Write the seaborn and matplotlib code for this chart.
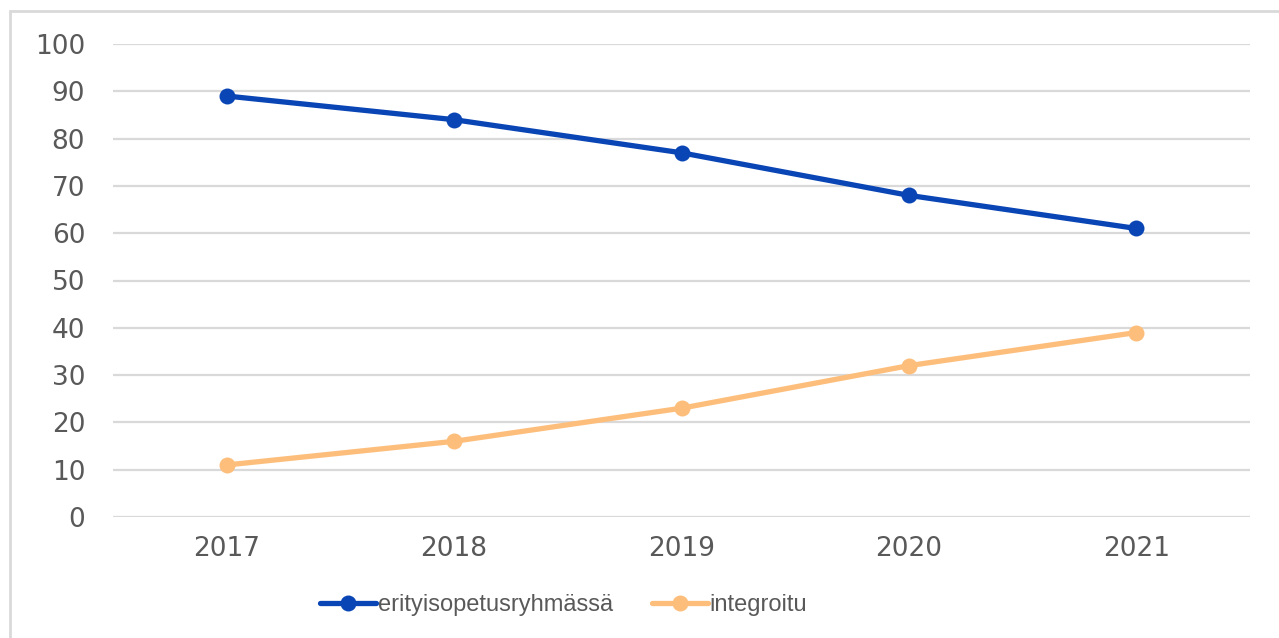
import matplotlib
matplotlib.use("Agg")
import matplotlib.pyplot as plt
import seaborn as sns
import pandas as pd
from matplotlib.patches import Rectangle

years = ["2017", "2018", "2019", "2020", "2021"]
erityis = [89, 84, 77, 68, 61]
integroitu = [11, 16, 23, 32, 39]
series_names = ["erityisopetusryhmässä", "integroitu"]
colors = ["#0A45B5", "#FDBE7C"]

df = pd.DataFrame({
    "year": years * 2,
    "x": list(range(len(years))) * 2,
    "value": erityis + integroitu,
    "series": [series_names[0]] * len(years) + [series_names[1]] * len(years),
})

sns.set_theme(style="white")
plt.rcParams["font.family"] = ["Liberation Sans", "DejaVu Sans"]

fig = plt.figure(figsize=(12.79, 6.38), dpi=100)
ax = fig.add_axes([113 / 1279, 1 - 517 / 638, (1250 - 113) / 1279, (517 - 44) / 638])

sns.lineplot(data=df, x="x", y="value", hue="series", palette=colors,
             marker="o", markersize=11.5, linewidth=3.8, markeredgewidth=0,
             ax=ax, legend=True, zorder=3)

ax.set_xlim(-0.5, len(years) - 0.5)
ax.set_ylim(0, 100)
ax.set_yticks(range(0, 101, 10))
ax.set_xticks(range(len(years)))
ax.set_xticklabels(years)
ax.set_xlabel("")
ax.set_ylabel("")
ax.grid(axis="y", color="#D9D9D9", linewidth=1.6, zorder=0)
ax.grid(axis="x", visible=False)
for s in ax.spines.values():
    s.set_visible(False)
ax.tick_params(axis="both", length=0, labelcolor="#595959")
for lbl in ax.get_xticklabels() + ax.get_yticklabels():
    lbl.set_fontfamily(["DejaVu Sans"])
    lbl.set_fontsize(19)
ax.tick_params(axis="y", pad=20)
ax.tick_params(axis="x", pad=14)

handles, labels = ax.get_legend_handles_labels()
leg = ax.legend(handles, labels, loc="center", ncol=2, frameon=False,
                fontsize=17, handlelength=2.4, handletextpad=0.05, columnspacing=1.65,
                labelcolor="#595959")
leg.set_bbox_to_anchor((563.5 / 1279, 1 - 605 / 638), transform=fig.transFigure)

fig.patches.append(Rectangle((10 / 1279, -0.1), 1.2, 1 - 11 / 638 + 0.1,
                             transform=fig.transFigure, fill=False,
                             edgecolor="#D9D9D9", linewidth=2, zorder=0))

fig.savefig("out.png", dpi=100, facecolor="white")
